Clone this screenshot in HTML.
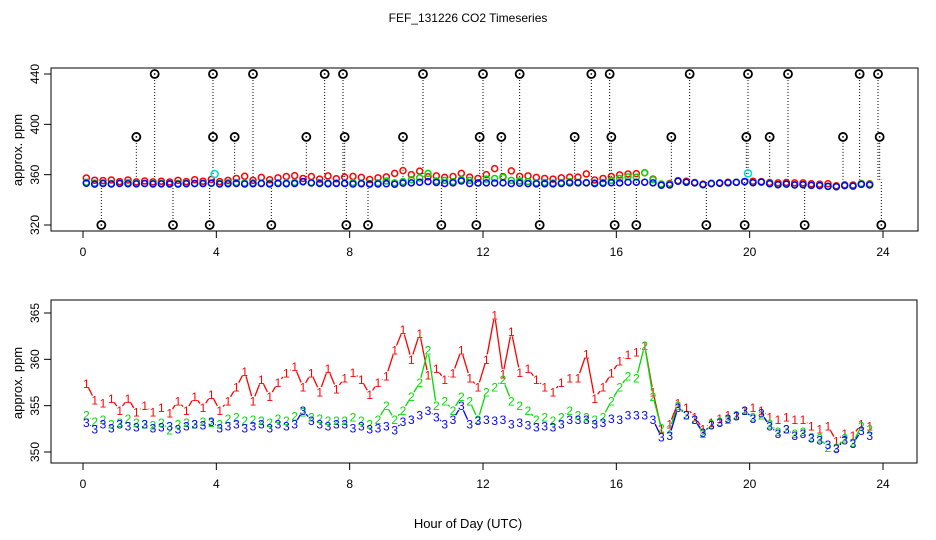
<!DOCTYPE html>
<html><head><meta charset="utf-8">
<style>
html,body{margin:0;padding:0;background:#fff;}
svg{display:block;font-family:"Liberation Sans",Arial,sans-serif;}
</style></head>
<body>
<svg id="chart" width="936" height="540" viewBox="0 0 936 540">
<text x="468" y="22" font-size="12" text-anchor="middle">FEF_131226  CO2 Timeseries</text>
<text x="468" y="528" font-size="13" text-anchor="middle">Hour of Day (UTC)</text>
<text transform="translate(22,150) rotate(-90)" font-size="13" text-anchor="middle">approx. ppm</text>
<text transform="translate(22,383) rotate(-90)" font-size="13" text-anchor="middle">approx. ppm</text>
<g id="top"></g>
<g id="bot"></g>
</svg>
<script>
const hours=[0.1,0.35,0.6,0.85,1.1,1.35,1.6,1.85,2.1,2.35,2.6,2.85,3.1,3.35,3.6,3.85,4.1,4.35,4.6,4.85,5.1,5.35,5.6,5.85,6.1,6.35,6.6,6.85,7.1,7.35,7.6,7.85,8.1,8.35,8.6,8.85,9.1,9.35,9.6,9.85,10.1,10.35,10.6,10.85,11.1,11.35,11.6,11.85,12.1,12.35,12.6,12.85,13.1,13.35,13.6,13.85,14.1,14.35,14.6,14.85,15.1,15.35,15.6,15.85,16.1,16.35,16.6,16.85,17.1,17.35,17.6,17.85,18.1,18.35,18.6,18.85,19.1,19.35,19.6,19.85,20.1,20.35,20.6,20.85,21.1,21.35,21.6,21.85,22.1,22.35,22.6,22.85,23.1,23.35,23.6];
const series1=[357.4,355.6,355.3,355.8,354.5,355.8,354.3,355.0,354.3,354.8,354.2,355.5,354.5,356.0,354.8,356.2,354.5,355.5,357.0,358.7,355.5,357.8,356.0,357.5,358.5,359.2,357.0,358.5,356.5,359.0,356.8,358.0,358.6,357.8,356.2,357.5,358.2,361.0,363.2,360.0,362.8,358.3,359.0,357.8,358.5,361.0,358.0,357.0,360.0,364.8,358.4,363.0,358.6,359.0,357.8,357.0,356.5,357.5,358.0,358.0,360.6,355.8,357.0,358.5,359.8,360.5,360.8,361.5,356.5,352.5,353.0,355.3,354.8,353.8,352.5,353.2,353.6,354.0,354.0,354.5,354.8,354.5,353.8,353.5,353.8,353.5,353.5,352.8,352.5,352.8,351.2,352.0,351.8,353.0,352.8];
const series2=[354.0,353.3,353.5,353.0,353.2,353.6,353.2,353.0,352.9,353.2,352.4,353.0,353.2,353.0,353.3,353.2,353.0,353.6,353.8,353.4,353.5,353.4,353.2,353.6,353.4,353.9,354.3,353.8,353.6,353.4,353.4,353.4,353.8,353.4,353.0,353.5,355.0,353.5,354.5,356.0,357.5,361.0,355.0,355.5,354.5,356.0,355.5,353.5,356.5,357.0,357.8,355.5,355.0,354.5,353.5,353.8,353.4,353.8,354.5,354.0,353.8,353.5,353.8,355.5,357.0,358.2,358.0,361.5,356.0,352.6,352.5,355.0,354.0,353.5,352.0,353.0,353.3,353.5,354.0,354.5,353.8,354.0,353.0,352.2,352.5,352.0,352.2,351.6,351.5,350.5,350.5,351.5,351.0,352.8,352.5];
const series3=[353.2,352.5,353.0,352.6,353.0,352.8,352.7,353.0,352.6,352.7,352.8,352.5,352.8,353.0,352.9,353.3,352.6,352.8,353.0,352.6,352.8,353.0,352.6,353.0,352.8,353.0,354.5,353.4,353.0,352.8,353.0,353.0,352.6,352.8,352.5,352.6,352.8,352.4,353.3,353.5,354.0,354.5,353.8,353.0,353.5,355.0,353.0,353.4,353.5,353.4,353.5,353.0,353.2,352.9,352.7,352.8,352.7,353.0,353.5,353.5,353.5,353.0,353.2,353.6,353.5,354.0,354.0,354.0,353.5,351.6,351.8,354.8,354.0,353.5,352.1,352.9,353.2,353.6,353.9,354.5,353.6,354.2,352.8,352.0,352.5,351.8,352.0,351.5,351.3,350.8,350.4,351.3,350.9,352.3,351.8];
const outlierHours=[2.15,3.9,5.1,7.25,7.8,10.2,12.0,13.1,15.25,15.8,18.2,19.95,21.15,23.3,23.85,1.6,3.9,4.55,6.7,7.85,9.6,11.9,12.55,14.75,15.85,17.65,19.9,20.6,22.8,23.9,0.55,2.7,3.8,5.65,7.9,8.55,10.75,11.8,13.7,15.95,16.6,18.7,19.85,21.65,23.95];
const outlierValues=[440,440,440,440,440,440,440,440,440,440,440,440,440,440,440,390,390,390,390,390,390,390,390,390,390,390,390,390,390,390,320,320,320,320,320,320,320,320,320,320,320,320,320,320,320];
const cyanHours=[3.95,19.95];
const cyanValues=[360.5,361];
const xTicks=[0,4,8,12,16,20,24];
const topYTicks=[320,360,400,440];
const botYTicks=[350,355,360,365];

const NS="http://www.w3.org/2000/svg";
function mk(parent,tag,attrs){const e=document.createElementNS(NS,tag);for(const k in attrs)e.setAttribute(k,attrs[k]);parent.appendChild(e);return e;}
const X=h=>83+h*(800/24);
const topY=v=>225-(v-320)*(151/120);
const botY=v=>452-(v-350)*(139/15);
const topG=document.getElementById('top');
const botG=document.getElementById('bot');

function axes(g,L,T,R,B,yfn,yticks,prefix){
  let r=mk(g,'rect',{x:L,y:T,width:R-L,height:B-T,fill:'none',stroke:'#000','stroke-width':1});
  
  
  let xa=mk(g,'line',{x1:X(0),x2:X(24),y1:B,y2:B,stroke:'#000'});
  
  
  xTicks.forEach(t=>{
    let l=mk(g,'line',{x1:X(t),x2:X(t),y1:B,y2:B+7,stroke:'#000'});
    
    
    let tx=mk(g,'text',{x:X(t),y:B+25,'font-size':12,'text-anchor':'middle'});
    tx.textContent=t;
    
    
  });
  yticks.forEach(t=>{
    const y=yfn(t);
    let l=mk(g,'line',{x1:L-7,x2:L,y1:y,y2:y,stroke:'#000'});
    
    
    let tx=mk(g,'text',{transform:'translate('+(L-12)+','+y+') rotate(-90)','font-size':12,'text-anchor':'middle'});
    tx.textContent=t;
    
    
  });
}
axes(topG,51,68,918,231,topY,topYTicks,'top');
axes(botG,51,300,917,463,botY,botYTicks,'bottom');

outlierHours.forEach((h,i)=>{
  const x=X(h),y=topY(outlierValues[i]);
  let l=mk(topG,'line',{x1:x,x2:x,y1:y,y2:topY(356),stroke:'#000','stroke-dasharray':'1,2'});
  
  
});
const cols=['#ff0000','#00dd00','#0000ff'];
const all=[series1,series2,series3];
all.forEach((s,si)=>{
  s.forEach((v,i)=>{
    let c=mk(topG,'circle',{cx:X(hours[i]),cy:topY(v),r:3,fill:'none',stroke:cols[si],'stroke-width':1.5});
    
    
  });
});
cyanHours.forEach((h,i)=>{
  let c=mk(topG,'circle',{cx:X(h),cy:topY(cyanValues[i]),r:3.5,fill:'none',stroke:'#00dddd','stroke-width':1.6});
  
  
});
outlierHours.forEach((h,i)=>{
  const x=X(h),y=topY(outlierValues[i]);
  let c=mk(topG,'circle',{cx:x,cy:y,r:4,fill:'#fff',stroke:'#000','stroke-width':1.8});
  
  
  let d=mk(topG,'circle',{cx:x,cy:y,r:0.9,fill:'#000'});
  
  
});

all.forEach((s,si)=>{
  const gap=5;
  for(let i=0;i<s.length-1;i++){
    const x1=X(hours[i]),y1=botY(s[i]),x2=X(hours[i+1]),y2=botY(s[i+1]);
    const dx=x2-x1,dy=y2-y1,len=Math.hypot(dx,dy);
    if(len<=2*gap) continue;
    const ux=dx/len,uy=dy/len;
    let l=mk(botG,'line',{x1:x1+ux*gap,y1:y1+uy*gap,x2:x2-ux*gap,y2:y2-uy*gap,stroke:cols[si],'stroke-width':1.3});
    
    
  }
  s.forEach((v,i)=>{
    let t=mk(botG,'text',{x:X(hours[i]),y:botY(v)+4.5,'font-size':12,'text-anchor':'middle',fill:cols[si]});
    t.textContent=String(si+1);
    
    
  });
});
</script>
</body></html>
